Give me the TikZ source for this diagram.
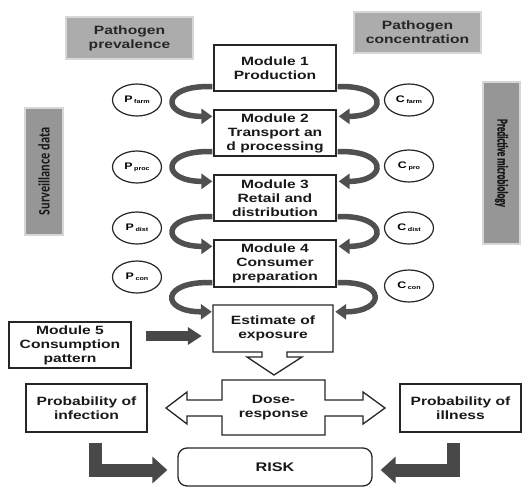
\documentclass[tikz,border=0pt]{standalone}
\usepackage{fontspec}
\setmainfont{Liberation Sans}[FakeStretch=1.3]
\newfontfamily\survfont{Carlito}[FakeStretch=0.77]
\newfontfamily\predfont{Carlito}[FakeStretch=0.6, FakeBold=1.2]
\usetikzlibrary{shapes.geometric,arrows.meta,calc}
\definecolor{boxgray}{RGB}{172,172,172}
\definecolor{vgray}{RGB}{150,150,150}
\definecolor{edgegray}{RGB}{215,215,215}
\definecolor{arrgray}{RGB}{80,80,80}
\definecolor{blkgray}{RGB}{72,72,72}
\newcommand\cirlab[2]{{\fontsize{9.5}{10}\selectfont\bfseries #1}\,\raisebox{-0.8pt}{\fontsize{5.5}{6}\selectfont\bfseries #2}}
\begin{document}
\begin{tikzpicture}[x=1pt,y=-1pt,
  every node/.style={inner sep=0pt, align=center},
  modbox/.style={draw=black!85, line width=1.3pt, fill=white, minimum width=122pt, minimum height=46pt, font=\fontsize{12}{14}\selectfont\bfseries, text=black!90},
  graybox/.style={draw=edgegray, line width=2pt, fill=boxgray, minimum width=127pt, minimum height=42pt, font=\fontsize{12}{14}\selectfont\bfseries, text=black!85},
  vbox/.style={draw=edgegray, line width=2pt, fill=vgray, text=black!90},
  cell/.style={ellipse, draw=black!85, line width=1.2pt, minimum width=49pt, minimum height=32pt, fill=white},
  callout/.style={draw=black!85, line width=1.3pt, fill=white, line join=miter},
  curv/.style={line width=5.5pt, draw=arrgray, -{Triangle[length=11pt,width=15pt]}},
  blk/.style={line width=10pt, draw=blkgray, -{Triangle[length=14pt,width=17pt]}},
  lblk/.style={line width=13pt, draw=blkgray, line join=miter, -{Triangle[length=15pt,width=26pt]}}
]
\useasboundingbox (0,0) rectangle (522,487);

% gray header boxes
\node[graybox] (prev) at (129.5,38.5) {Pathogen\\prevalence};
\node[graybox, minimum height=41pt] (conc) at (417.5,32.5) {Pathogen\\concentration};

% vertical gray boxes
\node[vbox, rotate=90, minimum width=127pt, minimum height=38pt, font=\survfont\bfseries\fontsize{16}{18}\selectfont] (surv) at (44,171.5) {Surveillance data};
\node[vbox, rotate=-90, minimum width=162pt, minimum height=37pt, font=\predfont\bfseries\fontsize{15}{17}\selectfont] (pred) at (501.5,163) {Predictive microbiology};

% modules
\node[modbox] (m1) at (275,68) {Module 1\\Production};
\node[modbox] (m2) at (275,133) {Module 2\\Transport an\\d processing};
\node[modbox] (m3) at (275,198) {Module 3\\Retail and\\distribution};
\node[modbox, minimum height=47pt] (m4) at (275,263.5) {Module 4\\Consumer\\preparation};

% estimate of exposure callout (down arrow)
\coordinate (estc) at (273,328.5);
\draw[callout, shift={(estc)}] (-60,-23.5) -- (60,-23.5) -- (60,23.5) -- (14,23.5) -- (14,28.5) -- (29,28.5) -- (1,46.5) -- (-26,28.5) -- (-11,28.5) -- (-11,23.5) -- (-60,23.5) -- cycle;
\node[minimum width=120pt, minimum height=47pt, font=\fontsize{12}{14}\selectfont\bfseries, text=black!90] (est) at (estc) {Estimate of\\exposure};

% dose-response callout (left-right arrows)
\coordinate (dosec) at (273.5,408);
\draw[callout, shift={(dosec)}] (-51.5,-28) -- (51.5,-28) -- (51.5,-8) -- (89.5,-8) -- (89.5,-16) -- (111.5,0) -- (89.5,16) -- (89.5,8) -- (51.5,8) -- (51.5,27) -- (-51.5,27) -- (-51.5,8) -- (-86.5,8) -- (-86.5,16) -- (-107.5,0) -- (-86.5,-16) -- (-86.5,-8) -- (-51.5,-8) -- cycle;
\node[minimum width=103pt, minimum height=55pt, font=\fontsize{12}{14}\selectfont\bfseries, text=black!90] (dose) at (dosec) {Dose-\\response};

% module 5 and probabilities
\node[modbox] (m5) at (70,345) {Module 5\\Consumption\\pattern};
\node[modbox, minimum width=121pt, minimum height=48pt] (pinf) at (86.5,408) {Probability of\\infection};
\node[modbox, minimum width=121pt, minimum height=48pt] (pill) at (460.5,408) {Probability of\\illness};

% risk
\node[draw=black!85, line width=1.3pt, rounded corners=9pt, minimum width=194pt, minimum height=38pt, font=\fontsize{12.5}{14}\selectfont\bfseries, text=black!90] (risk) at (275,467) {RISK};

% circles
\node[cell] (pfarm) at (137,100) {\cirlab{P}{farm}};
\node[cell] (pproc) at (137,167) {\cirlab{P}{proc}};
\node[cell] (pdist) at (137,228) {\cirlab{P}{dist}};
\node[cell] (pcon)  at (137,277) {\cirlab{P}{con}};
\node[cell] (cfarm) at (409,100) {\cirlab{C}{farm}};
\node[cell] (cpro)  at (409,166) {\cirlab{C}{pro}};
\node[cell] (cdist) at (409,228) {\cirlab{C}{dist}};
\node[cell] (ccon)  at (409,286) {\cirlab{C}{con}};

% curved arrows
\foreach \a/\b in {m1/m2, m2/m3, m3/m4, m4/est}{
  \draw[curv] ($(\a.south west)+(-1,-5)$) .. controls +(-52,-2) and +(-52,0) .. ($(\b.north west)+(-1,7)$);
  \draw[curv] ($(\a.south east)+(1,-5)$) .. controls +(50,-2) and +(50,0) .. ($(\b.north east)+(2,7)$);
}

% block arrows
\draw[blk] ($(m5.east)+(14,-9)$) -- ($(est.west |- m5.east)+(-11,-9)$);
\draw[lblk] ($(pinf.south)+(8.5,10)$) |- ($(risk.west)+(-10,3)$);
\draw[lblk] ($(pill.south)+(-7,10)$) |- ($(risk.east)+(8,3)$);
\end{tikzpicture}
\end{document}
